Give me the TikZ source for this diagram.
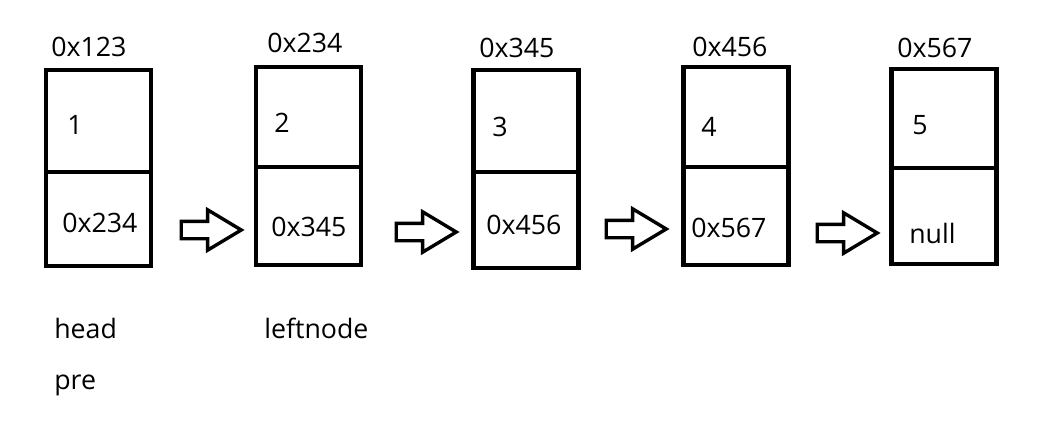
\documentclass[tikz,border=0pt]{standalone}
\usepackage{fontspec}
\setmainfont{Open Sans}
\usepackage{tikz}
\usetikzlibrary{shapes.arrows,positioning}
\tikzset{
  cell/.style={rectangle,draw=black,line width=0.11cm,
    minimum width=2.625cm,inner sep=0pt,outer sep=0pt},
  txt/.style={anchor=west,inner sep=0pt,
    font=\fontsize{19}{23}\selectfont},
  blockarr/.style={single arrow,draw=black,line width=0.085cm,
    inner xsep=0pt,inner ysep=0.175cm,
    single arrow head extend=0.2875cm,
    single arrow tip angle=62,
    minimum height=1.5cm,anchor=tail},
}

\begin{document}
\begin{tikzpicture}[x=0.025cm,y=-0.025cm]
  \useasboundingbox (0,0) rectangle (1057,429);

  % --- Cells: data (top) and next pointer (bottom) ---
  \node (v1) [cell, minimum height=2.55cm]  at (98.5,121) {};
  \node (p1) [cell, minimum height=2.35cm]  at (98.5,219) {};
  \node (v2) [cell, minimum height=2.5cm]   at (308.5,117) {};
  \node (p2) [cell, minimum height=2.45cm]  at (308.5,216) {};
  \node (v3) [cell, minimum height=2.55cm]  at (526,121) {};
  \node (p3) [cell, minimum height=2.4cm]   at (526,220) {};
  \node (v4) [cell, minimum height=2.5cm]   at (736,117) {};
  \node (p4) [cell, minimum height=2.45cm]  at (736,216) {};
  \node (v5) [cell, minimum height=2.475cm] at (944,118.5) {};
  \node (p5) [cell, minimum height=2.4cm]   at (944,216) {};

  % --- Addresses above the boxes ---
  \node (a1) [txt] at (51,47)  {0x123};
  \node (a2) [txt] at (267,43) {0x234};
  \node (a3) [txt] at (479,48) {0x345};
  \node (a4) [txt] at (692,47) {0x456};
  \node (a5) [txt] at (897,48) {0x567};

  % --- Data values ---
  \node (d1) [txt] at (67,125)  {1};
  \node (d2) [txt] at (274,123) {2};
  \node (d3) [txt] at (492,127) {3};
  \node (d4) [txt] at (701,127) {4};
  \node (d5) [txt] at (912,125) {5};

  % --- Next pointers ---
  \node (n1) [txt] at (62,223)  {0x234};
  \node (n2) [txt] at (271,227) {0x345};
  \node (n3) [txt] at (486,225) {0x456};
  \node (n4) [txt] at (691,228) {0x567};
  \node (n5) [txt] at (909,233) {null};

  % --- Block arrows between boxes ---
  \node (ar1) [blockarr] at (179.5,230) {};
  \node (ar2) [blockarr] at (394.5,232) {};
  \node (ar3) [blockarr] at (604.5,229) {};
  \node (ar4) [blockarr] at (815.5,233) {};

  % --- Pointer names ---
  \node (hd)  [txt] at (54,328)  {head};
  \node (pr)  [txt] at (54,385)  {pre};
  \node (lft) [txt] at (264,328) {leftnode};
\end{tikzpicture}
\end{document}
